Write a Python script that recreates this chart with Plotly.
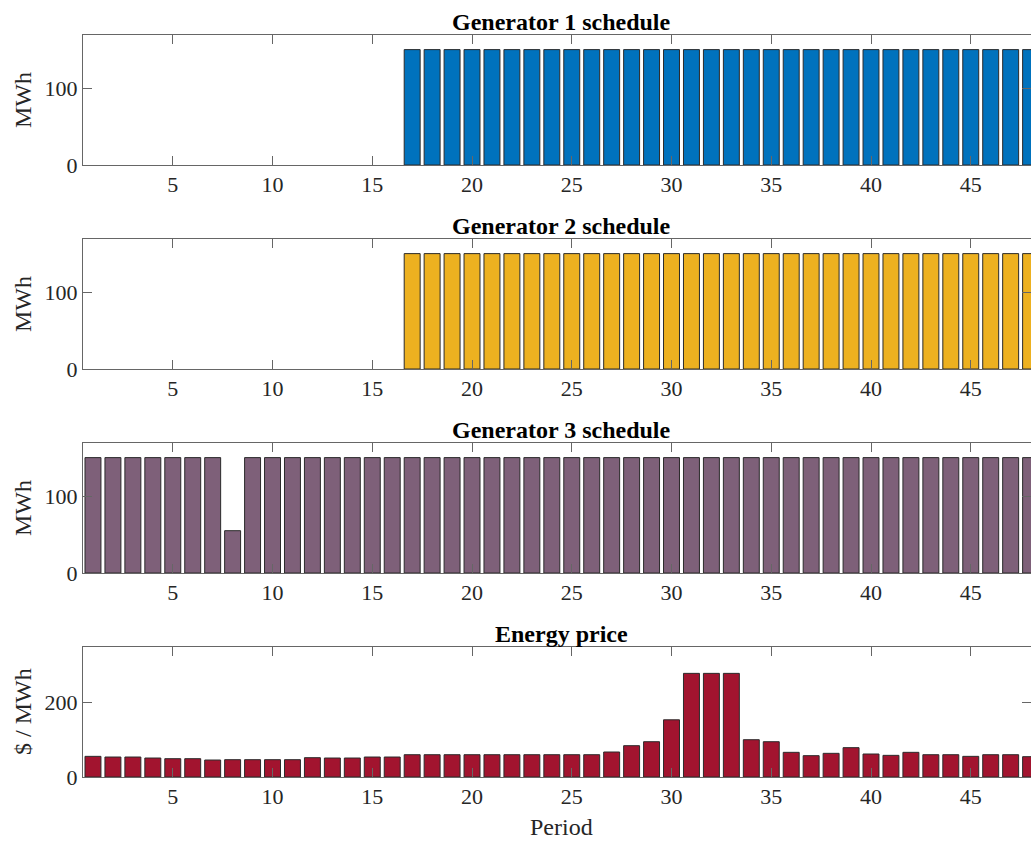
import plotly.graph_objects as go

periods = list(range(1, 49))

gen1 = [0, 0, 0, 0, 0, 0, 0, 0, 0, 0, 0, 0, 0, 0, 0, 0,
        150, 150, 150, 150, 150, 150, 150, 150, 150, 150, 150, 150, 150, 150, 150, 150,
        150, 150, 150, 150, 150, 150, 150, 150, 150, 150, 150, 150, 150, 150, 150, 150]
gen2 = [0, 0, 0, 0, 0, 0, 0, 0, 0, 0, 0, 0, 0, 0, 0, 0,
        150, 150, 150, 150, 150, 150, 150, 150, 150, 150, 150, 150, 150, 150, 150, 150,
        150, 150, 150, 150, 150, 150, 150, 150, 150, 150, 150, 150, 150, 150, 150, 150]
gen3 = [150, 150, 150, 150, 150, 150, 150, 55, 150, 150, 150, 150, 150, 150, 150, 150,
        150, 150, 150, 150, 150, 150, 150, 150, 150, 150, 150, 150, 150, 150, 150, 150,
        150, 150, 150, 150, 150, 150, 150, 150, 150, 150, 150, 150, 150, 150, 150, 150]
price = [55.6, 53.8, 53.8, 51.1, 49.3, 49.3, 45.7, 46.6, 46.6, 46.6, 46.6, 52.0,
         51.1, 51.1, 53.8, 53.8, 60, 60, 60, 60, 60, 60, 60, 60,
         60, 60, 67.3, 84.3, 95, 154, 279, 279, 279, 100.4, 95, 66.4,
         57.4, 63.7, 79, 61.9, 58.3, 66.4, 60, 60, 55.6, 60, 60, 54.7]

titles = ["Generator 1 schedule", "Generator 2 schedule", "Generator 3 schedule", "Energy price"]
ylabels = ["MWh", "MWh", "MWh", "$ / MWh"]
colors = ["#0072BD", "#EDB120", "#7E6079", "#A2142F"]
series = [gen1, gen2, gen3, price]
yranges = [[0, 169], [0, 169], [0, 169], [0, 350]]
yticks = [[0, 100], [0, 100], [0, 100], [0, 200]]
xticks = [5, 10, 15, 20, 25, 30, 35, 40, 45]

W, H = 1031, 841
top_px, bot_px = 35, 777
ph, step = 130, 204
span = bot_px - top_px

FONT = "Liberation Serif, Times New Roman, serif"
AX = "#666666"
TXT = "#262626"

fig = go.Figure()
layout = dict(
    width=W, height=H,
    margin=dict(l=83, r=0, t=top_px, b=H - bot_px, pad=0),
    paper_bgcolor="white", plot_bgcolor="white",
    showlegend=False, bargap=0.2,
    font=dict(family=FONT, size=22, color=TXT),
)
annotations = []
for k in range(4):
    n = "" if k == 0 else str(k + 1)
    t = top_px + step * k
    b = t + ph
    dom = [(bot_px - b) / span, (bot_px - t) / span]
    vals = series[k]
    fig.add_trace(go.Bar(
        x=periods, y=vals, xaxis="x" + n, yaxis="y" + n,
        marker=dict(color=colors[k],
                    line=dict(color="#2b2b2b", width=[1 if v > 0 else 0 for v in vals])),
        hoverinfo="x+y",
    ))
    layout["xaxis" + n] = dict(
        domain=[0, 1], anchor="y" + n, range=[0.5, 48.02],
        tickvals=xticks, ticks="inside", ticklen=9, tickcolor=AX,
        showline=True, linecolor=AX, linewidth=1, mirror="allticks",
        showgrid=False, zeroline=False, tickfont=dict(size=22, color=TXT, family=FONT),
    )
    layout["yaxis" + n] = dict(
        domain=dom, anchor="x" + n, range=yranges[k],
        tickvals=yticks[k], ticks="inside", ticklen=9, tickcolor=AX,
        showline=True, linecolor=AX, linewidth=1, mirror="allticks",
        showgrid=False, zeroline=False, tickfont=dict(size=22, color=TXT, family=FONT),
    )
    annotations.append(dict(
        text="<b>" + titles[k] + "</b>", x=24.5, xref="x" + n,
        y=1, yref="y" + n + " domain", yanchor="bottom", yshift=-2,
        showarrow=False, font=dict(size=24, color="black", family=FONT),
    ))
    annotations.append(dict(
        text=ylabels[k], x=0, xref="x" + n + " domain", xanchor="center", xshift=-60,
        y=0.5, yref="y" + n + " domain", yanchor="middle", textangle=-90,
        showarrow=False, font=dict(size=24, color=TXT, family=FONT),
    ))
annotations.append(dict(
    text="Period", x=24.5, xref="x4", y=0, yref="y4 domain", yanchor="top", yshift=-35,
    showarrow=False, font=dict(size=24, color=TXT, family=FONT),
))
layout["annotations"] = annotations
fig.update_layout(**layout)

fig.write_html("out.html", config={"displayModeBar": False},
               post_script="document.body.style.margin='0';document.body.style.overflow='hidden';")
